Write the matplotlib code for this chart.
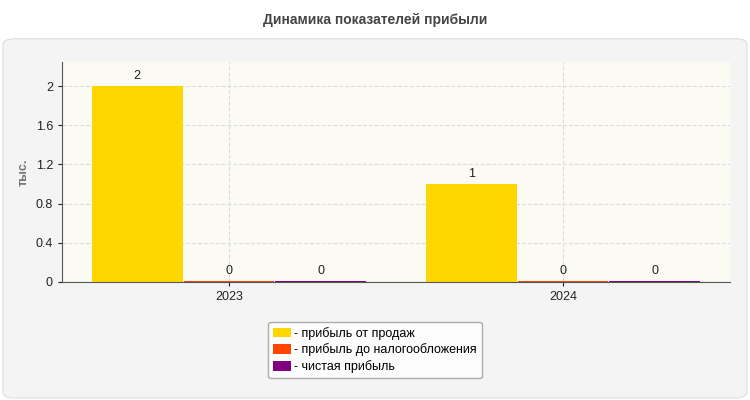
import matplotlib.pyplot as plt
from matplotlib.patches import FancyBboxPatch
import numpy as np

plt.rcParams['font.family'] = ['Liberation Sans', 'DejaVu Sans']

years = ['2023', '2024']
series = ['прибыль от продаж', 'прибыль до налогообложения', 'чистая прибыль']
values = [[2, 1], [0, 0], [0, 0]]
colors = ['#ffd700', '#ff4500', '#800080']

fig = plt.figure(figsize=(7.5, 4), dpi=100)
fig.patch.set_facecolor('white')
panel = FancyBboxPatch((0.004, 0.005), 0.992, 0.898, boxstyle='round,pad=0,rounding_size=0.015',
                       transform=fig.transFigure, facecolor='#f4f4f4', edgecolor='#dddddd', lw=0.8,
                       zorder=-10)
fig.patches.append(panel)
fig.text(0.5, 0.95, 'Динамика показателей прибыли', ha='center', va='center',
         fontsize=10, fontweight='bold', color='#444444')

ax = fig.add_axes([62/750, 1-282/400, 668/750, 220/400])
ax.set_facecolor('#fbfbf4')
x = np.arange(len(years))
w = 0.275
for i, (name, vals, c) in enumerate(zip(series, values, colors)):
    pos = x + (i - 1) * w
    h = [v if v > 0 else 0.015 for v in vals]
    ax.bar(pos, h, w * 0.99, color=c, label=name)
    for p, v in zip(pos, vals):
        ax.text(p, max(v, 0.015) + 0.04, str(v), ha='center', va='bottom', fontsize=9, color='#222222')

ax.set_xlim(-0.5, 1.5)
ax.set_ylim(0, 2.245)
ax.set_yticks([0, 0.4, 0.8, 1.2, 1.6, 2])
ax.set_yticklabels(['0', '0.4', '0.8', '1.2', '1.6', '2'])
ax.set_xticks(x)
ax.set_xticklabels(years)
ax.tick_params(labelsize=9, colors='#222222', length=3)
ax.grid(True, color='#dddddd', ls='--', lw=0.8)
ax.set_axisbelow(True)
for s in ['top', 'right']:
    ax.spines[s].set_visible(False)
ax.spines['left'].set_color('#555555')
ax.spines['bottom'].set_color('#555555')
ax.set_ylabel('тыс.', fontsize=9, fontweight='bold', color='#777777')

leg = fig.legend(loc='center', bbox_to_anchor=(375/750, 1-350/400), fontsize=9,
                 handlelength=1.4, handleheight=0.8, handletextpad=0.3, labelspacing=0.3,
                 frameon=True, fancybox=True, edgecolor='#999999', facecolor='white')
for t in leg.get_texts():
    t.set_text('- ' + t.get_text())
fig.savefig('out.png', dpi=100)
